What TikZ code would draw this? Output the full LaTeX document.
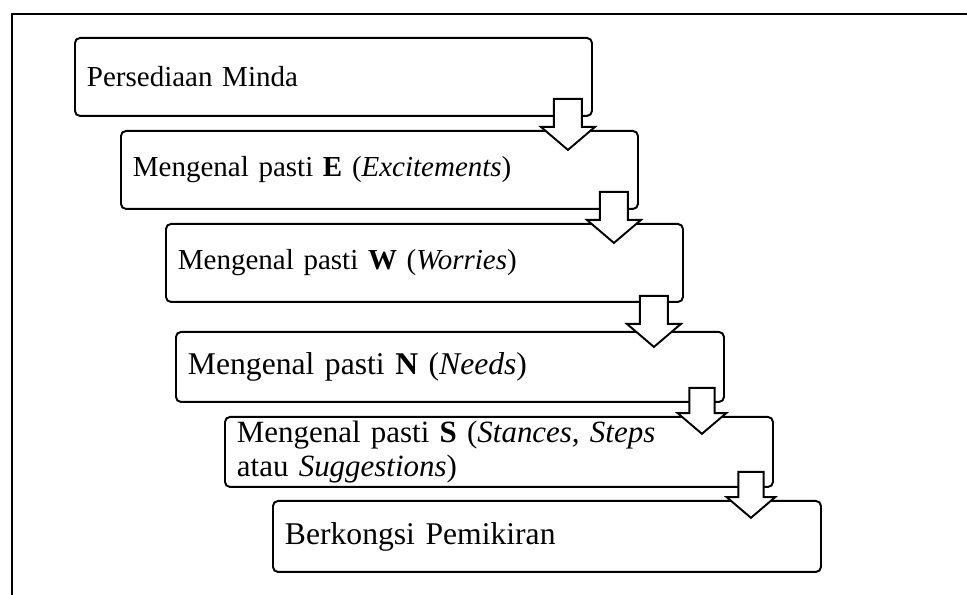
\documentclass[tikz,border=0pt]{standalone}
\usepackage{fontspec}
\setmainfont{Liberation Serif}
\usetikzlibrary{positioning, calc}

\begin{document}
\begin{tikzpicture}[
    stagebox/.style={draw, line width=1.1pt, rounded corners=0.1cm, anchor=north west, align=left, inner xsep=0.24cm, inner ysep=0.06cm},
    smalltext/.style={font=\fontsize{16.5}{19.8}\selectfont, text width=9.86cm, minimum height=1.56cm},
    bigtext/.style={font=\fontsize{18}{20.5}\selectfont, text width=10.48cm, minimum height=1.40cm},
    downarrow/.pic={
      \draw[line width=1.1pt, fill=white, line join=miter] (-0.28,0) -- (-0.28,-0.56) -- (-0.54,-0.56) -- (0,-1.02) -- (0.54,-0.56) -- (0.28,-0.56) -- (0.28,0) -- cycle;
    }]
    \useasboundingbox (0,0) rectangle (19.34,11.9);
    % open frame
    \draw[line width=1.4pt] (0.24,0) -- (0.24,11.62) -- (19.34,11.62);

    \node[stagebox, smalltext] (mind) at (1.48,11.16) {Persediaan Minda};
    \node[stagebox, smalltext] (excite) at (2.40,9.30) {Mengenal pasti \textbf{E} (\textit{Excitements})};
    \node[stagebox, smalltext] (worry) at (3.30,7.44) {Mengenal pasti \textbf{W} (\textit{Worries})};
    \node[stagebox, bigtext] (need) at (3.50,5.28) {Mengenal pasti \textbf{N} (\textit{Needs})};
    \node[stagebox, bigtext, font=\fontsize{17.6}{19}\selectfont] (stance) at (4.48,3.58) {Mengenal pasti \textbf{S} (\textit{Stances, Steps}\\atau \textit{Suggestions})};
    \node[stagebox, bigtext, minimum height=1.42cm] (share) at (5.44,1.90) {Berkongsi Pemikiran};

    % block arrows on top of the boxes
    \pic at ($(mind.south east)+(-0.50,0.36)$) {downarrow};
    \pic at ($(excite.south east)+(-0.50,0.36)$) {downarrow};
    \pic at ($(worry.south east)+(-0.60,0.14)$) {downarrow};
    \pic[scale=0.9] at ($(need.south east)+(-0.46,0.30)$) {downarrow};
    \pic[scale=0.9] at ($(stance.south east)+(-0.46,0.32)$) {downarrow};
\end{tikzpicture}
\end{document}
